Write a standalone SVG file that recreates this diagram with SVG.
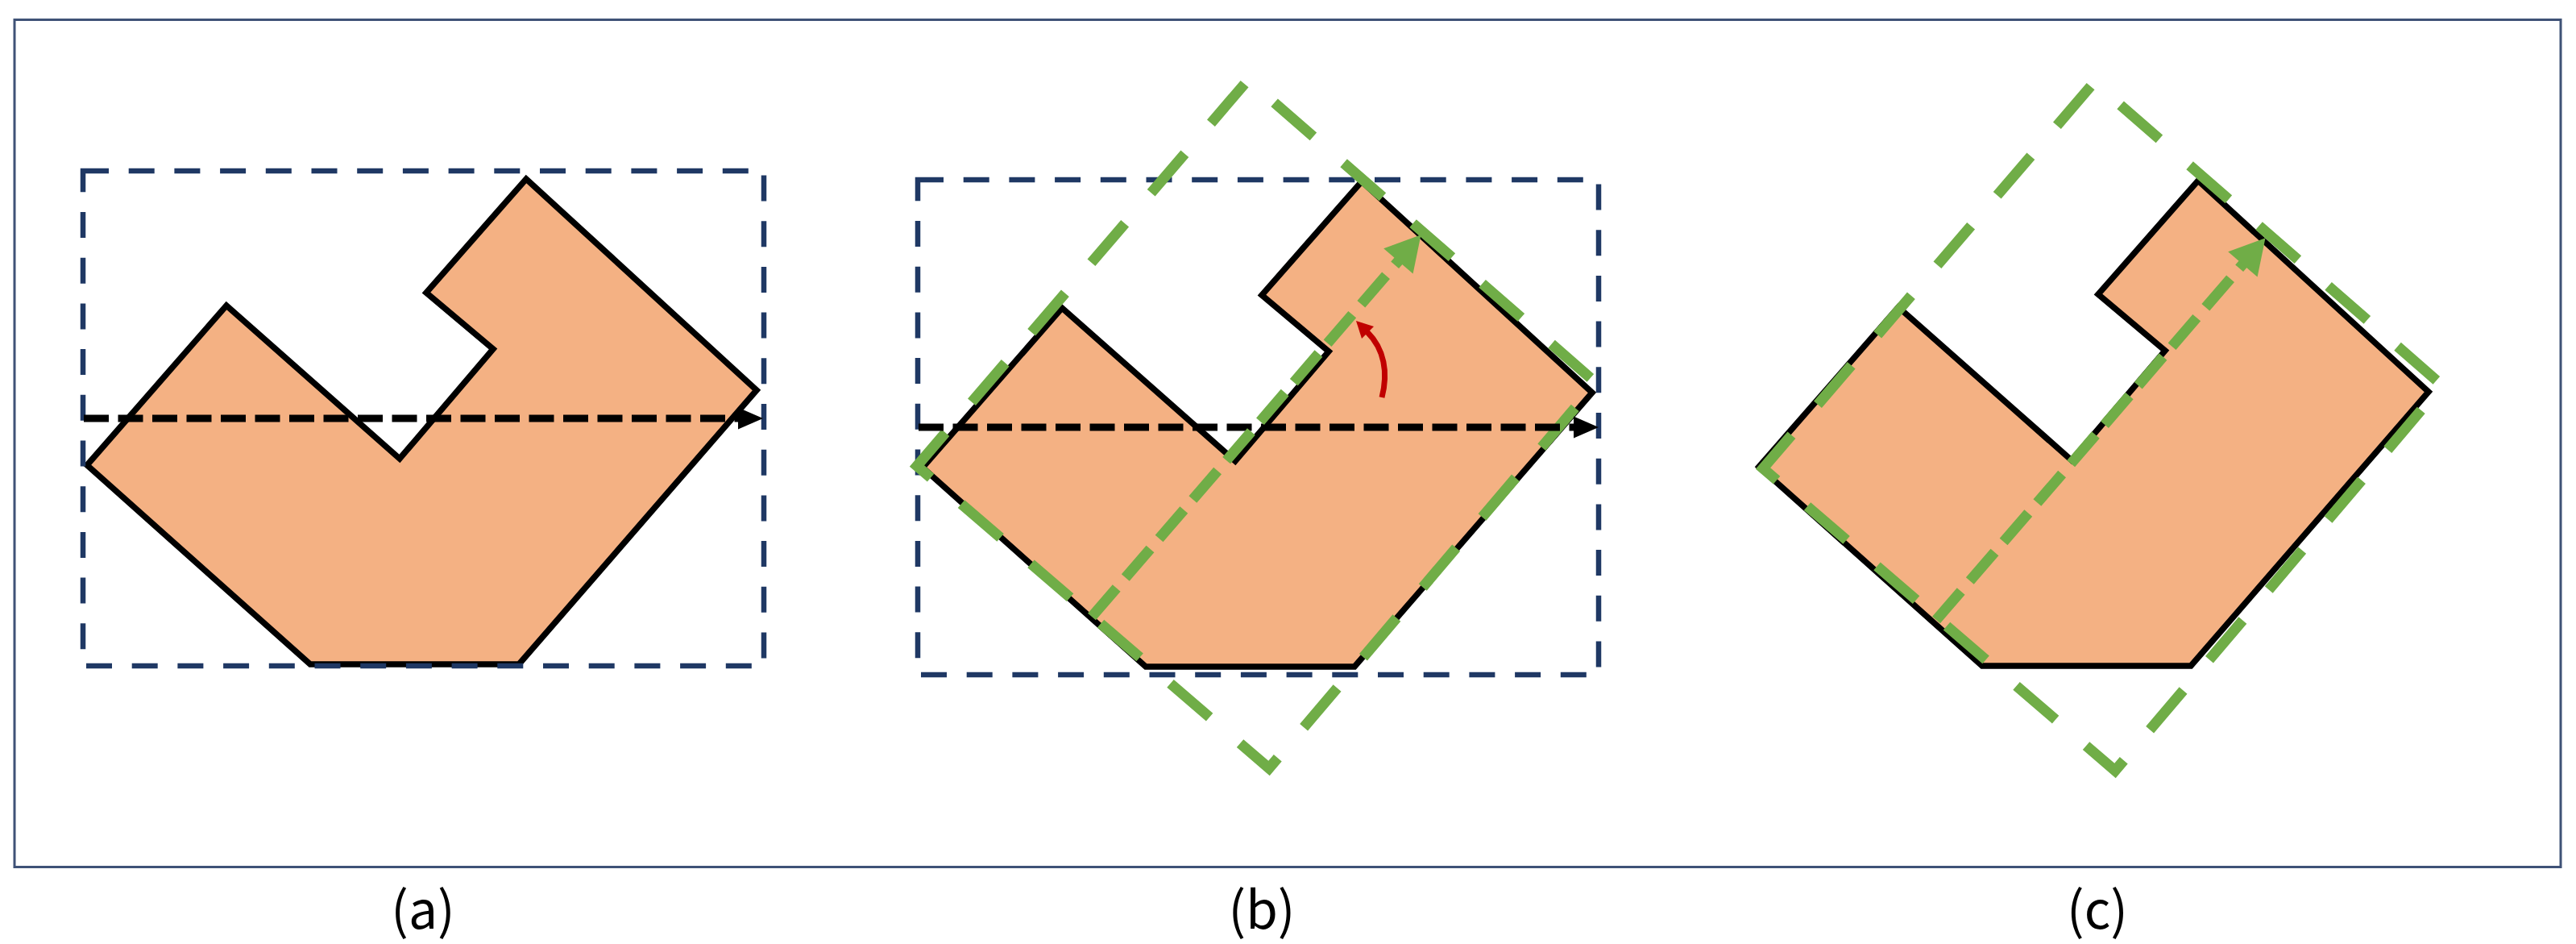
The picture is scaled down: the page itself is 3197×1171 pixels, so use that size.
<svg xmlns="http://www.w3.org/2000/svg" width="3197" height="1171" viewBox="0 0 3197 1171">
<style>
.frame{fill:none;stroke:#3F5277;stroke-width:3}
.shape{fill:#F4B183;stroke:#000;stroke-width:7.5;stroke-linejoin:miter}
.bbox{fill:none;stroke:#1F3864;stroke-width:6.5;stroke-dasharray:32 24.7}
.axis{fill:none;stroke:#000;stroke-width:9;stroke-dasharray:31 11.5}
.head{fill:#000}
.obb{fill:none;stroke:#70AD47;stroke-width:13;stroke-dasharray:64 50;stroke-dashoffset:9.6;stroke-linejoin:miter}
.gaxis{fill:none;stroke:#70AD47;stroke-width:13;stroke-dasharray:47 17}
.ghead{fill:#70AD47}
.rot{fill:none;stroke:#C00000;stroke-width:7}
.rhead{fill:#C00000}
.lbl{font-family:"Noto Sans CJK JP","Noto Sans",sans-serif;font-size:64px;fill:#000;text-anchor:middle}
</style>
<rect x="0" y="0" width="3197" height="1171" fill="#fff"/>
<rect class="frame" x="18" y="24.5" width="3160" height="1051"/>

<g id="panel-a">
  <polygon class="shape" points="653,222 939,484 644,824 385,824 108,577 281,379 496,569 612,433 529,363"/>
  <rect class="bbox" x="103" y="212" width="845" height="614"/>
</g>
<g id="panel-b">
  <polygon class="shape" transform="translate(1037,3)" points="653,222 939,484 644,824 385,824 108,577 281,379 496,569 612,433 529,363"/>
  <rect class="bbox" x="1139" y="223" width="845" height="614"/>
  <path class="obb" d="M1138,578 L1549,99 L1981,475 L1575,953 Z"/>
</g>
<g id="panel-c">
  <polygon class="shape" transform="translate(2075,2)" points="653,222 939,484 644,824 385,824 108,577 281,379 496,569 612,433 529,363"/>
  <path class="obb" d="M2188,581 L2599,102 L3031,478 L2625,956 Z"/>
</g>

<g id="connectors">
  <line class="axis" x1="104" y1="519" x2="918" y2="519"/>
  <polygon class="head" points="947,519 916,505.5 916,532.5"/>
  <line class="axis" x1="1140" y1="530" x2="1955" y2="530"/>
  <polygon class="head" points="1984,530 1953,516.5 1953,543.5"/>
  <line class="gaxis" x1="1355" y1="765" x2="1737" y2="322"/>
  <polygon class="ghead" points="1763.5,291.3 1753.6,339.6 1717.2,308.2"/>
  <line class="gaxis" x1="2403" y1="769" x2="2785" y2="326"/>
  <polygon class="ghead" points="2811.5,295.3 2801.6,343.6 2765.2,312.2"/>
  <path class="rot" d="M1715,493 C1723,462 1718,433 1697,412"/>
  <polygon class="rhead" points="1683,398 1705,405 1690,420"/>
</g>

<g id="labels">
  <text class="lbl" x="525" y="1152">(a)</text>
  <text class="lbl" x="1566" y="1152">(b)</text>
  <text class="lbl" x="2603" y="1152">(c)</text>
</g>
</svg>
